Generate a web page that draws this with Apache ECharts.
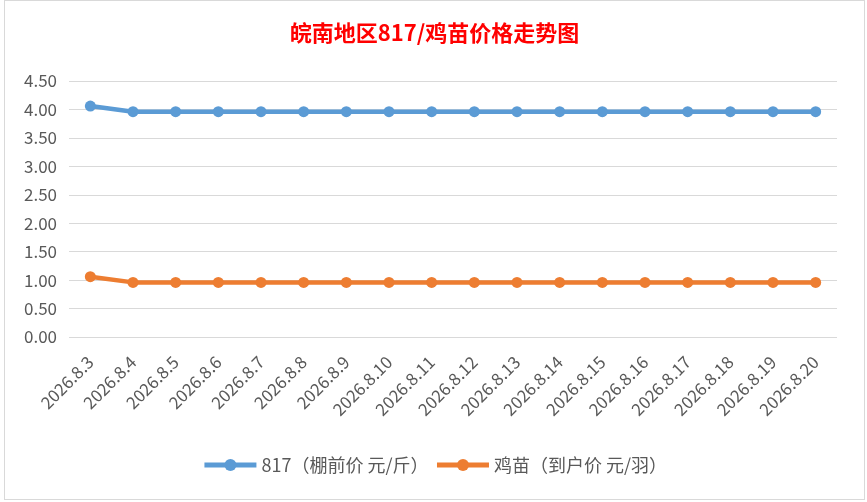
<!DOCTYPE html>
<html><head><meta charset="utf-8">
<script src="https://cdn.jsdelivr.net/npm/echarts@6/dist/echarts.min.js"></script>
<style>
html,body{margin:0;padding:0;background:#fff;}
#wrap{position:absolute;left:4px;top:0px;width:861px;height:500px;border:1px solid #d9d9d9;box-sizing:border-box;}
#c{width:100%;height:100%;}
</style></head>
<body><div id="wrap"><div id="c"></div></div>
<script>
const categories = ['2026.8.3','2026.8.4','2026.8.5','2026.8.6','2026.8.7','2026.8.8','2026.8.9','2026.8.10','2026.8.11','2026.8.12','2026.8.13','2026.8.14','2026.8.15','2026.8.16','2026.8.17','2026.8.18','2026.8.19','2026.8.20'];
const price817 = [4.06,3.96,3.96,3.96,3.96,3.96,3.96,3.96,3.96,3.96,3.96,3.96,3.96,3.96,3.96,3.96,3.96,3.96];
const chickPrice = [1.06,0.96,0.96,0.96,0.96,0.96,0.96,0.96,0.96,0.96,0.96,0.96,0.96,0.96,0.96,0.96,0.96,0.96];
const seriesNames = ['817（棚前价 元/斤）','鸡苗（到户价 元/羽）'];
const chart = echarts.init(document.getElementById('c'));
const font = '"Microsoft YaHei","Noto Sans CJK SC",sans-serif';
chart.setOption({
  animation:false,
  title:{text:'皖南地区817/鸡苗价格走势图',left:'center',top:16,textStyle:{color:'#ff0000',fontSize:22,fontWeight:'bold',fontFamily:font}},
  grid:{left:64,right:27,top:80,bottom:162},
  legend:{bottom:20,left:'center',itemWidth:52,itemHeight:15,itemGap:6,
    lineStyle:{width:5},
    textStyle:{color:'#595959',fontSize:18,fontFamily:font},data:seriesNames},
  xAxis:{type:'category',data:categories,boundaryGap:true,
    axisLine:{show:false},axisTick:{show:false},
    axisLabel:{rotate:45,color:'#595959',fontSize:17,fontFamily:font,interval:0,margin:22}},
  yAxis:{type:'value',min:0,max:4.5,interval:0.5,
    axisLine:{show:false},axisTick:{show:false},
    splitLine:{lineStyle:{color:'#d9d9d9',width:1}},
    axisLabel:{color:'#595959',fontSize:17,fontFamily:font,margin:12,formatter:v=>v.toFixed(2)}},
  series:[
    {name:seriesNames[0],type:'line',data:price817,symbol:'circle',symbolSize:11,
     lineStyle:{color:'#5b9bd5',width:4.5},itemStyle:{color:'#5b9bd5'}},
    {name:seriesNames[1],type:'line',data:chickPrice,symbol:'circle',symbolSize:11,
     lineStyle:{color:'#ed7d31',width:4.5},itemStyle:{color:'#ed7d31'}}
  ]
});
</script></body></html>
